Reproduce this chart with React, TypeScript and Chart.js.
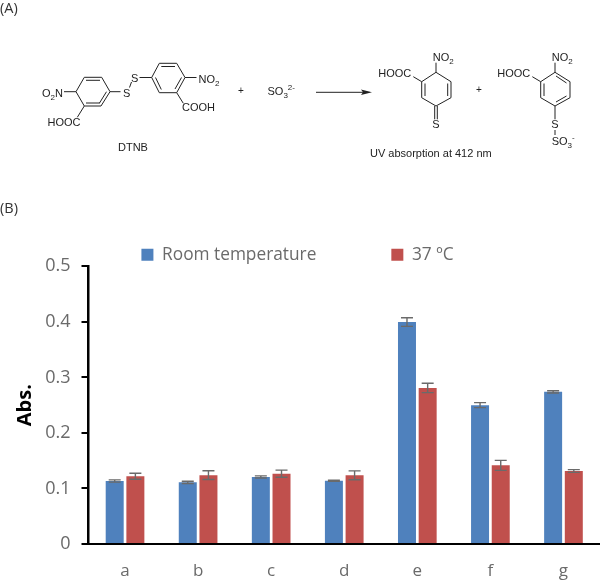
import React, { useEffect, useRef } from "react";
import { Chart, registerables } from "chart.js";

Chart.register(...registerables);

const categories = ["a", "b", "c", "d", "e", "f", "g"];
const roomLabel = "Room temperature";
const warmLabel = "37 ºC";
const roomValues = [0.1134, 0.111, 0.1207, 0.114, 0.3996, 0.25, 0.274];
const warmValues = [0.122, 0.124, 0.1266, 0.1237, 0.281, 0.1416, 0.1314];
const roomErrors = [0.002, 0.002, 0.002, 0.001, 0.0077, 0.0045, 0.002];
const warmErrors = [0.0055, 0.008, 0.0065, 0.008, 0.0085, 0.009, 0.0025];
const yTicks = [0, 0.1, 0.2, 0.3, 0.4, 0.5];
const BLUE = "#4f81bd";
const RED = "#c0504d";
const GRAY = "#6a6a6a";
const UI_FONT = "'Open Sans', sans-serif";

const errorBars = {
  id: "errorBars",
  afterDatasetsDraw(chart: any) {
    const { ctx } = chart;
    const y = chart.scales.y;
    [roomErrors, warmErrors].forEach((errs, d) => {
      const meta = chart.getDatasetMeta(d);
      meta.data.forEach((bar: any, i: number) => {
        const v = chart.data.datasets[d].data[i];
        const hi = y.getPixelForValue(v + errs[i]);
        const lo = y.getPixelForValue(v - errs[i]);
        ctx.save();
        ctx.strokeStyle = GRAY;
        ctx.lineWidth = 1.4;
        ctx.beginPath();
        ctx.moveTo(bar.x, hi);
        ctx.lineTo(bar.x, lo);
        ctx.moveTo(bar.x - 6, hi);
        ctx.lineTo(bar.x + 6, hi);
        ctx.moveTo(bar.x - 6, lo);
        ctx.lineTo(bar.x + 6, lo);
        ctx.stroke();
        ctx.restore();
      });
    });
  },
};

const legendNudge = {
  id: "legendNudge",
  afterLayout(chart: any) {
    chart.legend.left -= 5;
    chart.legend.top += 7;
  },
};

const Bond = ({ p }: { p: number[] }) => (
  <line x1={p[0]} y1={p[1]} x2={p[2]} y2={p[3]} stroke="#222" strokeWidth={1} />
);

const Poly = ({ pts }: { pts: number[][] }) => (
  <polygon points={pts.map((q) => q.join(",")).join(" ")} fill="none" stroke="#222" strokeWidth={1} />
);

const Sub = ({ children }: { children: React.ReactNode }) => (
  <tspan dy={3} fontSize={8}>{children}</tspan>
);
const Sup = ({ children, dy = -4 }: { children: React.ReactNode; dy?: number }) => (
  <tspan dy={dy} fontSize={8}>{children}</tspan>
);

function Scheme() {
  return (
    <svg
      width={600}
      height={235}
      style={{ position: "absolute", left: 0, top: 0, pointerEvents: "none" }}
      fontFamily="'Liberation Sans', Arial, sans-serif"
      fontSize={11}
      fill="#222"
    >
      <text x={0} y={13} fontFamily={UI_FONT} fontSize={14.5} fill="#333">(A)</text>
      <text x={0} y={213} fontFamily={UI_FONT} fontSize={14.5} fill="#333">(B)</text>

      {/* DTNB */}
      <Poly pts={[[84.3, 77.3], [101.7, 77.3], [110, 91.7], [101, 106], [84.3, 106], [76, 91.7]]} />
      <Bond p={[86, 80.3, 100, 80.3]} />
      <Bond p={[86, 103, 100, 103]} />
      <Bond p={[106.5, 91.7, 99.5, 103]} />
      <Bond p={[76, 91.7, 64, 91.7]} />
      <text x={42} y={97}>O<Sub>2</Sub><tspan dy={-3}>N</tspan></text>
      <Bond p={[84.3, 106, 77.3, 117.3]} />
      <text x={47.5} y={126}>HOOC</text>
      <Bond p={[110, 91.7, 120.5, 91.7]} />
      <text x={123} y={97}>S</text>
      <Bond p={[129.5, 87.5, 131.5, 82]} />
      <text x={131} y={82}>S</text>
      <Bond p={[139.5, 77.5, 151.7, 77.5]} />
      <Poly pts={[[151.7, 77.5], [159.3, 63.3], [176.7, 63.3], [185, 77.5], [176.7, 92.7], [159.3, 92.7]]} />
      <Bond p={[161.3, 66.5, 175, 66.5]} />
      <Bond p={[181.5, 77.5, 175, 89]} />
      <Bond p={[161.3, 89.5, 155.5, 77.5]} />
      <Bond p={[185, 77.5, 196.5, 77.5]} />
      <text x={198.5} y={82.5}>NO<Sub>2</Sub></text>
      <Bond p={[176.7, 92.7, 183.3, 103.3]} />
      <text x={182} y={111}>COOH</text>
      <text x={118} y={151}>DTNB</text>

      <text x={238} y={94} fontSize={10}>+</text>
      <text x={267.5} y={95}>SO<Sub>3</Sub><Sup dy={-8}>2-</Sup></text>

      {/* Arrow */}
      <Bond p={[316, 92.3, 366, 92.3]} />
      <polygon points="372,92.3 361,89.5 363,92.3 361,95" fill="#222" />

      {/* Thione product */}
      <Poly pts={[[436, 72.3], [451, 81.7], [451, 97.7], [436, 106], [421.7, 97.7], [421.7, 81.7]]} />
      <Bond p={[425, 83.5, 425, 96]} />
      <Bond p={[447.7, 83.5, 447.7, 96]} />
      <Bond p={[436, 72.3, 436, 62.7]} />
      <text x={432.7} y={61}>NO<Sub>2</Sub></text>
      <Bond p={[421.7, 81.7, 413.3, 76.7]} />
      <text x={378.3} y={77}>HOOC</text>
      <Bond p={[434.7, 106, 434.7, 119.3]} />
      <Bond p={[437.3, 106, 437.3, 119.3]} />
      <text x={432.3} y={128}>S</text>
      <text x={476} y={93} fontSize={10}>+</text>
      <text x={370} y={157}>UV absorption at 412 nm</text>

      {/* Bunte salt product */}
      <Poly pts={[[555, 72.3], [570, 81.7], [570, 97.7], [555, 106], [540.7, 97.7], [540.7, 81.7]]} />
      <Bond p={[544, 83.5, 544, 96]} />
      <Bond p={[556, 76, 566.5, 83]} />
      <Bond p={[556, 102, 566.5, 96]} />
      <Bond p={[555, 72.3, 555, 62.7]} />
      <text x={551.7} y={61}>NO<Sub>2</Sub></text>
      <Bond p={[540.7, 81.7, 532.3, 76.7]} />
      <text x={497.3} y={77}>HOOC</text>
      <Bond p={[555, 106, 555, 119.3]} />
      <text x={551.3} y={128}>S</text>
      <Bond p={[555, 130, 555, 135]} />
      <text x={551.7} y={145}>SO<Sub>3</Sub><Sup dy={-8}>-</Sup></text>
    </svg>
  );
}

export default function App() {
  const ref = useRef<HTMLCanvasElement | null>(null);

  useEffect(() => {
    const chart = new Chart(ref.current!, {
      type: "bar",
      plugins: [errorBars, legendNudge],
      data: {
        labels: categories,
        datasets: [
          { label: roomLabel, data: roomValues, backgroundColor: BLUE },
          { label: warmLabel, data: warmValues, backgroundColor: RED },
        ],
      },
      options: {
        animation: false,
        responsive: false,
        devicePixelRatio: 1,
        layout: { padding: { top: 164, left: 0, right: 0, bottom: 0 } },
        datasets: { bar: { categoryPercentage: 0.566, barPercentage: 0.87 } },
        plugins: {
          tooltip: { enabled: false },
          legend: {
            position: "top",
            labels: {
              boxWidth: 12,
              boxHeight: 12,
              padding: 75,
              color: GRAY,
              font: { family: UI_FONT, size: 17.3 },
            },
          },
        },
        scales: {
          x: {
            afterFit(s: any) { s.height = 36; },
            grid: { display: false, drawTicks: false },
            border: { color: "#000", width: 2 },
            ticks: { color: GRAY, font: { family: UI_FONT, size: 17 }, padding: 17, maxRotation: 0 },
          },
          y: {
            min: 0,
            max: 0.5,
            afterFit(s: any) { s.width = 88.5; },
            afterBuildTicks(s: any) { s.ticks = yTicks.map((value) => ({ value })); },
            grid: { drawOnChartArea: false, color: "#000", lineWidth: 2, tickLength: 7, tickWidth: 2, tickColor: "#000" },
            border: { color: "#000", width: 2.5 },
            ticks: {
              color: GRAY,
              padding: 11,
              font: { family: UI_FONT, size: 18 },
              callback: (v: any) => String(v),
            },
            title: {
              display: true,
              text: "Abs.",
              color: "#000",
              padding: { top: 13, bottom: 0 },
              font: { family: UI_FONT, size: 20, weight: "bold" },
            },
          },
        },
      },
    } as any);
    return () => chart.destroy();
  }, []);

  return (
    <div style={{ position: "absolute", left: 0, top: 0, width: 600, height: 580, background: "#fff" }}>
      <canvas ref={ref} width={600} height={580} style={{ position: "absolute", left: 0, top: 0 }} />
      <Scheme />
    </div>
  );
}
